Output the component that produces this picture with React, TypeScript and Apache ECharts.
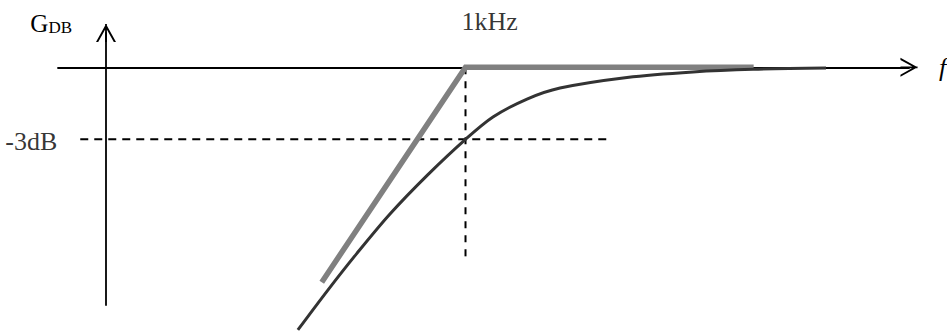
import React, { useEffect, useRef } from "react";
import * as echarts from "echarts";

// Measured magnitude response of the high-pass stage (frequency in Hz, gain in dB)
const curveHz = [294, 364, 453, 576, 760, 1000, 1222, 1567, 1994, 3253, 5265, 8163, 13910];
const curveDb = [-10.94, -9.32, -7.74, -6.11, -4.47, -3, -2.07, -1.32, -0.86, -0.42, -0.19, -0.08, -0.03];

// Straight-line (asymptotic) approximation
const asymptoteHz = [350, 1000, 8200];
const asymptoteDb = [-8.95, 0, 0];

// Cut-off point and its guide lines
const cutoffHz = 1000;
const cutoffDb = -3;
const levelGuideHz = [60, 2800];
const cutoffGuideDb = [0, -8];

// Axis ranges
const freqRange = [51, 25500];
const gainRange = [-9.9, 1.43];

// Texts
const cutoffLabel = "1kHz";
const levelLabel = "-3dB";
const gainName = "G";
const gainSub = "DB";
const freqName = "f";

const SERIF = "Liberation Serif";

// Open chevron arrow head (pointing up) with a stem running to the tip
const ARROW =
  "path://M10 0 L20 18 L17.8 18 L10 4 L2.2 18 L0 18 Z M9.1 0 L10.9 0 L10.9 18 L9.1 18 Z";

const axisLineStyle = { color: "#000", width: 1.8 };

export default function App() {
  const ref = useRef<HTMLDivElement>(null);

  useEffect(() => {
    if (!ref.current) return;
    const chart = echarts.init(ref.current, undefined, { renderer: "svg" });

    const option: any = {
      animation: false,
      backgroundColor: "#fff",
      grid: {
        left: 58,
        right: 38,
        top: 33,
        bottom: 27,
        containLabel: false,
        outerBoundsMode: "none",
      },
      xAxis: {
        type: "log",
        logBase: 10,
        min: freqRange[0],
        max: freqRange[1],
        axisLine: {
          show: true,
          onZero: true,
          symbol: ["none", ARROW],
          symbolSize: [19, 18],
          lineStyle: axisLineStyle,
        },
        axisTick: { show: false },
        axisLabel: { show: false },
        splitLine: { show: false },
        minorTick: { show: false },
        minorSplitLine: { show: false },
        name: freqName,
        nameLocation: "end",
        nameGap: 30,
        nameTextStyle: {
          fontFamily: SERIF,
          fontStyle: "italic",
          fontSize: 26,
          color: "#000",
        },
      },
      yAxis: {
        type: "value",
        min: gainRange[0],
        max: gainRange[1],
        offset: -48,
        axisLine: {
          show: true,
          onZero: false,
          symbol: ["none", ARROW],
          symbolSize: [20, 18],
          lineStyle: axisLineStyle,
        },
        axisTick: { show: false },
        axisLabel: { show: false },
        splitLine: { show: false },
        name: `{g|${gainName}}{s|${gainSub}}`,
        nameLocation: "end",
        nameGap: 10,
        nameTextStyle: {
          align: "right",
          verticalAlign: "middle",
          padding: [0, 34, 0, 0],
          rich: {
            g: { fontFamily: SERIF, fontSize: 25, color: "#000" },
            s: { fontFamily: SERIF, fontSize: 17, color: "#000", verticalAlign: "bottom" },
          },
        },
      },
      series: [
        {
          type: "line",
          silent: true,
          symbol: "none",
          clip: false,
          data: levelGuideHz.map((f) => [f, cutoffDb]),
          lineStyle: { color: "#000", width: 2, type: [8, 6] },
        },
        {
          type: "line",
          silent: true,
          symbol: "none",
          clip: false,
          data: cutoffGuideDb.map((g) => [cutoffHz, g]),
          lineStyle: { color: "#000", width: 2, type: [7, 7] },
        },
        {
          type: "line",
          silent: true,
          symbol: "none",
          clip: false,
          data: asymptoteHz.map((f, i) => [f, asymptoteDb[i]]),
          lineStyle: { color: "#808080", width: 5.5, join: "miter", cap: "butt" },
        },
        {
          type: "line",
          silent: true,
          symbol: "none",
          clip: false,
          smooth: 0.3,
          data: curveHz.map((f, i) => [f, curveDb[i]]),
          lineStyle: { color: "#333333", width: 3, cap: "butt" },
        },
        {
          type: "scatter",
          silent: true,
          symbolSize: 0,
          data: [
            {
              value: [cutoffHz, 0],
              label: {
                show: true,
                formatter: cutoffLabel,
                position: "top",
                distance: 33,
                align: "left",
                offset: [-4, 0],
                fontFamily: SERIF,
                fontSize: 26,
                color: "#000",
              },
            },
            {
              value: [levelGuideHz[0], cutoffDb],
              label: {
                show: true,
                formatter: levelLabel,
                position: "left",
                distance: 23,
                offset: [0, 2],
                fontFamily: SERIF,
                fontSize: 26,
                color: "#000",
              },
            },
          ],
        },
      ],
    };

    chart.setOption(option);
    return () => chart.dispose();
  }, []);

  return (
    <div
      ref={ref}
      style={{ position: "fixed", left: 0, top: 0, width: 947, height: 332 }}
    />
  );
}
